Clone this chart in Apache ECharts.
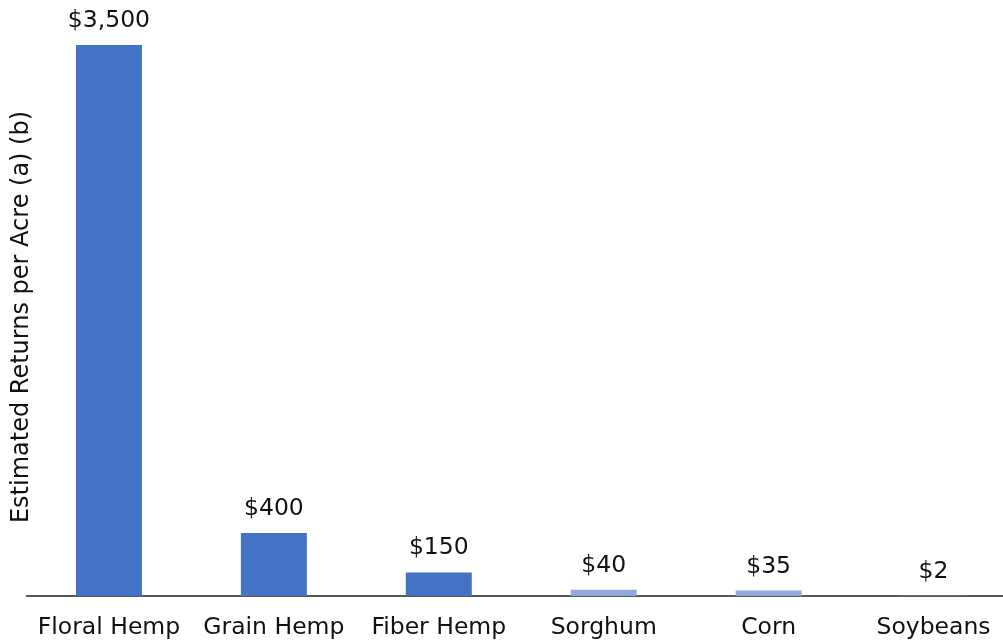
<!DOCTYPE html>
<html><head><meta charset="utf-8">
<script src="https://cdn.jsdelivr.net/npm/echarts@6/dist/echarts.min.js"></script>
<style>html,body{margin:0;padding:0;background:#fff}#c{width:1003px;height:643px}</style>
</head><body><div id="c"></div>
<script>
const categories = ['Floral Hemp','Grain Hemp','Fiber Hemp','Sorghum','Corn','Soybeans'];
const values = [3500, 400, 150, 40, 35, 2];
const labels = ['$3,500','$400','$150','$40','$35','$2'];
const barColors = ['#4472C4','#4472C4','#4472C4','#8FAADC','#8FAADC','#8FAADC'];
const yTitle = 'Estimated Returns per Acre (a) (b)';

const font = '"DejaVu Sans", sans-serif';
const chart = echarts.init(document.getElementById('c'));
chart.setOption({
  animation: false,
  grid: {left: 26.5, right: -13, top: 45, bottom: 47, outerBoundsMode: 'none', containLabel: false},
  xAxis: {
    type: 'category', data: categories,
    axisLine: {lineStyle: {color: '#222', width: 1.5}},
    axisTick: {show: false},
    axisLabel: {color: '#111', fontSize: 23.5, fontFamily: font, margin: 20, interval: 0}
  },
  yAxis: {type: 'value', min: 0, max: 3500, show: false},
  graphic: [{
    type: 'text', x: 22, y: 317, rotation: Math.PI/2,
    style: {text: yTitle, fill: '#111', fontSize: 24, fontFamily: font, align: 'center', verticalAlign: 'middle'}
  }],
  series: [{
    type: 'bar', barWidth: '40%',
    data: values.map((v,i)=>({value: v, itemStyle: {color: barColors[i]}})),
    label: {show: true, position: 'top', distance: 12, color: '#111', fontSize: 23.5, fontFamily: font,
      formatter: p => labels[p.dataIndex]}
  }]
});
</script></body></html>
